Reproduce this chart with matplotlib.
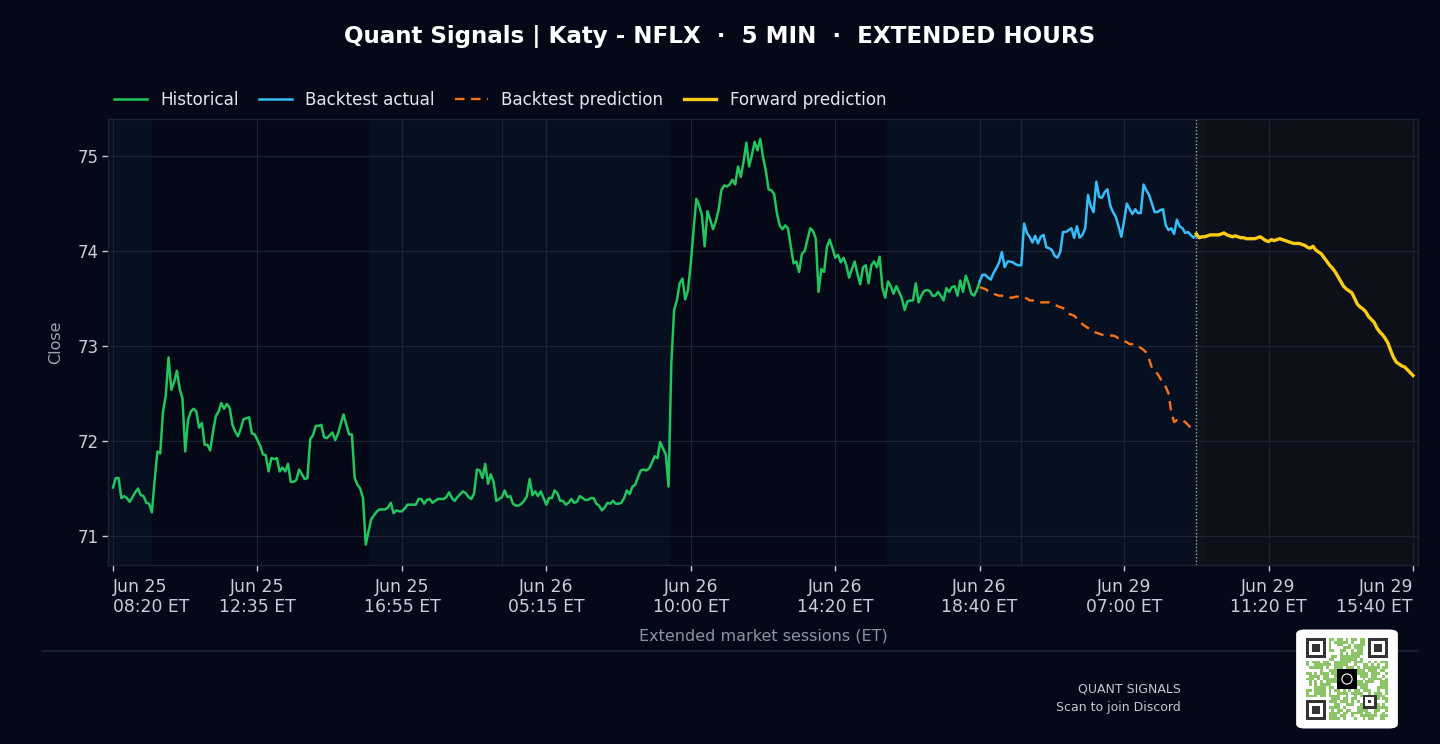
import hashlib
import numpy as np
import matplotlib
matplotlib.use("Agg")
import matplotlib.pyplot as plt
from matplotlib.patches import FancyBboxPatch, Circle
from matplotlib.lines import Line2D

# ---- data (5-min bars, x = bar index) ----
hist_close = [
    71.51, 71.61, 71.61, 71.40, 71.42, 71.40, 71.36, 71.41, 71.46, 71.50,
    71.43, 71.42, 71.35, 71.34, 71.25, 71.59, 71.89, 71.87, 72.31, 72.48,
    72.88, 72.54, 72.62, 72.74, 72.55, 72.45, 71.89, 72.22, 72.31, 72.34,
    72.31, 72.14, 72.19, 71.96, 71.96, 71.90, 72.10, 72.26, 72.31, 72.40,
    72.34, 72.39, 72.35, 72.17, 72.10, 72.05, 72.13, 72.23, 72.24, 72.25,
    72.08, 72.07, 72.01, 71.95, 71.86, 71.85, 71.68, 71.82, 71.81, 71.82,
    71.68, 71.72, 71.68, 71.76, 71.57, 71.57, 71.59, 71.70, 71.65, 71.60,
    71.61, 72.02, 72.06, 72.16, 72.16, 72.17, 72.04, 72.03, 72.06, 72.09,
    72.01, 72.08, 72.18, 72.28, 72.17, 72.07, 72.07, 71.61, 71.54, 71.50,
    71.40, 70.91, 71.05, 71.18, 71.22, 71.26, 71.28, 71.28, 71.28, 71.30,
    71.35, 71.24, 71.27, 71.26, 71.26, 71.29, 71.33, 71.33, 71.33, 71.33,
    71.39, 71.39, 71.34, 71.38, 71.39, 71.35, 71.37, 71.39, 71.39, 71.39,
    71.41, 71.46, 71.40, 71.37, 71.41, 71.44, 71.47, 71.45, 71.41, 71.39,
    71.45, 71.70, 71.69, 71.61, 71.76, 71.55, 71.65, 71.57, 71.37, 71.39,
    71.41, 71.48, 71.41, 71.42, 71.34, 71.32, 71.32, 71.34, 71.37, 71.42,
    71.60, 71.43, 71.47, 71.42, 71.47, 71.40, 71.33, 71.40, 71.40, 71.48,
    71.45, 71.37, 71.37, 71.33, 71.35, 71.39, 71.35, 71.36, 71.42, 71.40,
    71.38, 71.38, 71.40, 71.40, 71.34, 71.32, 71.27, 71.30, 71.35, 71.34,
    71.37, 71.34, 71.34, 71.35, 71.40, 71.48, 71.44, 71.52, 71.54, 71.62,
    71.69, 71.70, 71.69, 71.71, 71.77, 71.84, 71.82, 71.99, 71.92, 71.86,
    71.52, 72.82, 73.38, 73.48, 73.66, 73.71, 73.49, 73.59, 73.87, 74.22,
    74.55, 74.48, 74.38, 74.05, 74.42, 74.33, 74.23, 74.31, 74.43, 74.64,
    74.69, 74.68, 74.70, 74.75, 74.70, 74.89, 74.78, 74.94, 75.14, 74.89,
    75.01, 75.15, 75.06, 75.18, 74.99, 74.85, 74.65, 74.64, 74.60, 74.40,
    74.27, 74.23, 74.27, 74.24, 74.05, 73.87, 73.89, 73.78, 73.97, 74.00,
    74.12, 74.24, 74.21, 74.13, 73.57, 73.81, 73.78, 74.04, 74.12, 74.03,
    73.93, 73.96, 73.88, 73.93, 73.85, 73.72, 73.81, 73.89, 73.76, 73.65,
    73.83, 73.85, 73.66, 73.85, 73.89, 73.83, 73.94, 73.61, 73.51, 73.68,
    73.63, 73.55, 73.63, 73.57, 73.50, 73.38, 73.47, 73.48, 73.48, 73.66,
    73.46, 73.53, 73.58, 73.59, 73.58, 73.53, 73.53, 73.57, 73.53, 73.48,
    73.61, 73.57, 73.62, 73.63, 73.53, 73.69, 73.57, 73.74, 73.66, 73.55,
    73.53, 73.59, 73.68,
]
backtest_actual = [
    73.68, 73.75, 73.75, 73.72, 73.70, 73.77, 73.82, 73.88, 73.99, 73.83,
    73.89, 73.89, 73.88, 73.86, 73.85, 73.85, 74.29, 74.19, 74.15, 74.09,
    74.16, 74.08, 74.15, 74.17, 74.04, 74.03, 74.01, 73.95, 73.93, 73.99,
    74.20, 74.20, 74.22, 74.24, 74.14, 74.26, 74.14, 74.17, 74.24, 74.59,
    74.47, 74.41, 74.73, 74.57, 74.56, 74.62, 74.65, 74.48, 74.41, 74.36,
    74.26, 74.15, 74.32, 74.50, 74.44, 74.39, 74.44, 74.40, 74.40, 74.70,
    74.64, 74.59, 74.50, 74.41, 74.41, 74.43, 74.44, 74.27, 74.22, 74.24,
    74.18, 74.33, 74.26, 74.24, 74.19, 74.20, 74.17, 74.14, 74.17,
]
backtest_pred = [
    73.62, 73.61, 73.60, 73.58, 73.57, 73.55, 73.54, 73.53, 73.53, 73.52,
    73.52, 73.51, 73.51, 73.52, 73.52, 73.51, 73.51, 73.50, 73.48, 73.48,
    73.47, 73.47, 73.46, 73.46, 73.46, 73.46, 73.45, 73.44, 73.42, 73.41,
    73.40, 73.37, 73.34, 73.33, 73.32, 73.29, 73.26, 73.23, 73.21, 73.19,
    73.17, 73.15, 73.14, 73.13, 73.12, 73.11, 73.11, 73.11, 73.11, 73.10,
    73.08, 73.07, 73.05, 73.04, 73.02, 73.02, 73.02, 73.00, 72.98, 72.96,
    72.93, 72.86, 72.77, 72.73, 72.71, 72.66, 72.61, 72.57, 72.50, 72.30,
    72.20, 72.22, 72.23, 72.22, 72.20, 72.17, 72.14,
]
forward_pred = [
    74.18, 74.14, 74.15, 74.15, 74.16, 74.17, 74.17, 74.17, 74.17, 74.18,
    74.19, 74.17, 74.16, 74.15, 74.16, 74.15, 74.14, 74.14, 74.13, 74.13,
    74.13, 74.13, 74.14, 74.15, 74.13, 74.11, 74.10, 74.12, 74.11, 74.12,
    74.13, 74.12, 74.11, 74.10, 74.09, 74.08, 74.08, 74.08, 74.07, 74.06,
    74.04, 74.03, 74.05, 74.01, 73.99, 73.97, 73.93, 73.89, 73.85, 73.82,
    73.78, 73.73, 73.68, 73.63, 73.60, 73.58, 73.56, 73.50, 73.44, 73.41,
    73.39, 73.36, 73.31, 73.28, 73.25, 73.19, 73.15, 73.12, 73.08, 73.03,
    72.95, 72.88, 72.83, 72.81, 72.79, 72.78, 72.75, 72.72, 72.69,
]
tick_bars = [0, 52, 104, 156, 208, 260, 312, 364, 416, 468]
tick_labels = [
    "Jun 25\n08:20 ET", "Jun 25\n12:35 ET", "Jun 25\n16:55 ET",
    "Jun 26\n05:15 ET", "Jun 26\n10:00 ET", "Jun 26\n14:20 ET",
    "Jun 26\n18:40 ET", "Jun 29\n07:00 ET", "Jun 29\n11:20 ET",
    "Jun 29\n15:40 ET",
]
# extended-hours sessions (pre/after market), bar index ranges
ext_sessions = [(-2, 14), (92, 200.5), (278.5, 393.5)]
day_breaks = [140, 327]

BG = "#050816"
GRID = "#1c2434"

hist_x = np.arange(len(hist_close))
bt_start = len(hist_close) - 1
bt_x = bt_start + np.arange(len(backtest_actual))
bp_x = bt_start + np.arange(len(backtest_pred))
fw_start = bt_x[-1]
fw_x = fw_start + np.arange(len(forward_pred))

fig = plt.figure(figsize=(14.4, 7.44), dpi=100, facecolor=BG)
ax = fig.add_axes([108 / 1440, 1 - 565 / 744, 1310 / 1440, 446 / 744])
ax.set_facecolor(BG)

for a, b in ext_sessions:
    ax.axvspan(a, b, color="#0a1628", alpha=0.6, lw=0, zorder=0)
ax.axvspan(fw_start, fw_x[-1] + 5, color="#14151b", alpha=0.65, lw=0, zorder=0)
for d in day_breaks:
    ax.axvline(d, color=GRID, lw=0.8, zorder=0.5)

ax.plot(hist_x, hist_close, color="#22c55e", lw=1.8, label="Historical", zorder=3)
ax.plot(bt_x, backtest_actual, color="#38bdf8", lw=1.8, label="Backtest actual", zorder=3)
ax.plot(bp_x, backtest_pred, color="#f97316", lw=1.7, ls=(0, (4, 2.8)),
        label="Backtest prediction", zorder=3)
ax.plot(fw_x, forward_pred, color="#facc15", lw=2.4, label="Forward prediction", zorder=4)
ax.axvline(fw_start, color="#a0a8b8", lw=1.0, ls=(0, (1, 1.5)), zorder=2)

ax.set_xlim(-1.8, 469.8)
ax.set_ylim(70.695, 75.39)
ax.set_yticks([71, 72, 73, 74, 75])
ax.set_xticks(tick_bars)
ax.set_xticklabels(tick_labels, linespacing=1.15)
xt = ax.get_xticklabels()
xt[0].set_ha("left")
xt[-1].set_ha("right")
ax.grid(True, color=GRID, lw=0.8, zorder=0.5)
ax.tick_params(colors="#c9ced8", labelsize=12, length=4, width=1)
ax.tick_params(axis="x", labelsize=12.4, pad=5)
ax.tick_params(axis="y", pad=3)
for s in ax.spines.values():
    s.set_color(GRID)
    s.set_linewidth(1)

ax.set_ylabel("Close", color="#9ca3af", fontsize=11.5, labelpad=10)
ax.set_xlabel("Extended market sessions (ET)", color="#8a93a6", fontsize=11.5, labelpad=9)

fig.text(0.5, 1 - 36 / 744, "Quant Signals | Katy - NFLX  ·  5 MIN  ·  EXTENDED HOURS",
         ha="center", va="center", color="white", fontsize=16.6, fontweight="bold")

handles, labels = ax.get_legend_handles_labels()
leg = fig.legend(handles, labels, loc="center left",
                 bbox_to_anchor=(99 / 1440, 1 - 100 / 744), ncol=4, frameon=False,
                 fontsize=12.1, handlelength=1.95, handletextpad=0.8, columnspacing=1.2)
for t in leg.get_texts():
    t.set_color("#e5e7eb")

# footer
fig.add_artist(Line2D([43 / 1440, 1418 / 1440], [1 - 651 / 744] * 2,
                      color="#1f2636", lw=1.2))
fig.text(1181 / 1440, 1 - 689 / 744, "QUANT SIGNALS", ha="right", va="center",
         color="#c3c7cf", fontsize=9)
fig.text(1181 / 1440, 1 - 708 / 744, "Scan to join Discord", ha="right", va="center",
         color="#c3c7cf", fontsize=9)

# QR badge
box = FancyBboxPatch((1299 / 1440, 1 - 727 / 744), 96 / 1440, 96 / 744,
                     boxstyle="round,pad=0.002,rounding_size=0.006",
                     transform=fig.transFigure, facecolor="white", edgecolor="none",
                     zorder=5)
fig.add_artist(box)

n = 29
vals = []
seed = b"quant-signals-discord"
while len(vals) < n * n:
    seed = hashlib.sha256(seed).digest()
    vals.extend(seed)
mods = np.array(vals[:n * n]).reshape(n, n) > 100
green = np.array([140, 196, 104]) / 255
dark = np.array([52, 52, 52]) / 255
img = np.ones((n, n, 3))
img[mods] = green


def finder(r, c, size=7):
    img[max(r - 1, 0):r + size + 1, max(c - 1, 0):c + size + 1] = 1
    img[r:r + size, c:c + size] = dark
    img[r + 1:r + size - 1, c + 1:c + size - 1] = 1
    img[r + 2:r + size - 2, c + 2:c + size - 2] = dark


finder(0, 0)
finder(0, n - 7)
finder(n - 7, 0)
img[n - 9:n - 4, n - 9:n - 4] = dark
img[n - 8:n - 5, n - 8:n - 5] = 1
img[n - 7, n - 7] = dark
img[11:18, 11:18] = 0
qax = fig.add_axes([1306 / 1440, 1 - 720 / 744, 82 / 1440, 82 / 744], zorder=6)
qax.imshow(img, interpolation="nearest")
qax.add_patch(Circle((14, 14), 1.8, facecolor="none", edgecolor="white", lw=0.8))
qax.axis("off")

fig.savefig("out.png", dpi=100, facecolor=BG)
